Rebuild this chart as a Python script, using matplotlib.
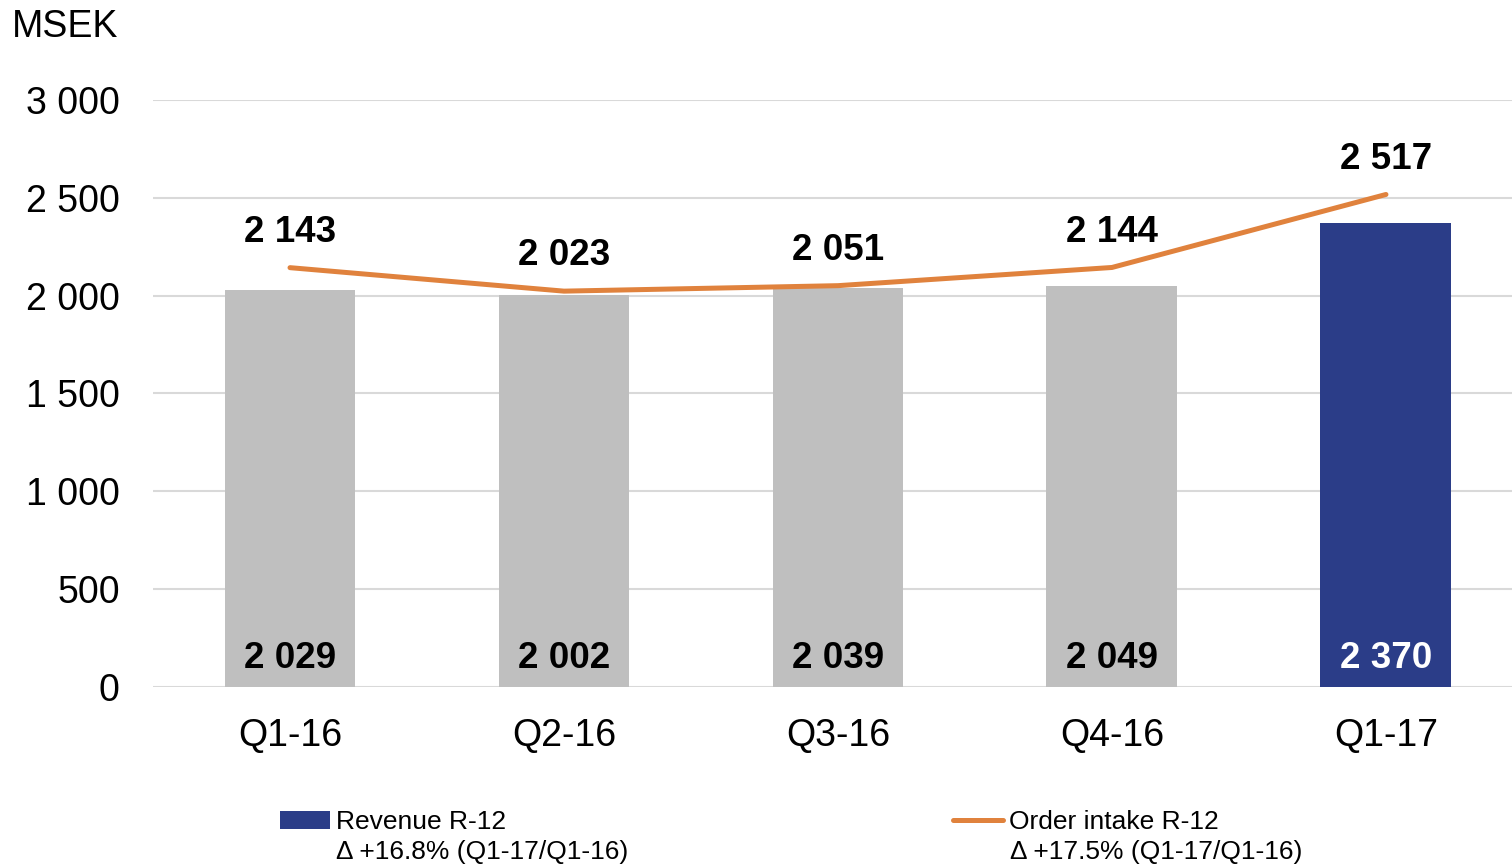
import matplotlib.pyplot as plt
from matplotlib.patches import Patch
from matplotlib.lines import Line2D

plt.rcParams['font.family'] = ['Liberation Sans', 'DejaVu Sans']

quarters = ['Q1-16', 'Q2-16', 'Q3-16', 'Q4-16', 'Q1-17']
revenue = [2029, 2002, 2039, 2049, 2370]
order_intake = [2143, 2023, 2051, 2144, 2517]

grey = '#BFBFBF'
navy = '#2B3D88'
orange = '#E0823D'

fig = plt.figure(figsize=(15.12, 8.67), dpi=100)
ax = fig.add_axes([0.1012, 0.2076, 0.8988, 0.6771])

x = list(range(len(quarters)))
bar_colors = [grey] * 4 + [navy]
ax.bar(x, revenue, width=0.478, color=bar_colors, zorder=2)
ax.plot(x, order_intake, color=orange, lw=3.6, solid_capstyle='round', zorder=3)

def fmt(v):
    return f'{v:,}'.replace(',', ' ')

for i, v in enumerate(revenue):
    c = 'white' if i == len(revenue) - 1 else 'black'
    ax.annotate(fmt(v), (i, 0), xytext=(0, 13.7), textcoords='offset points',
                ha='center', va='baseline', fontsize=26.5, fontweight='bold', color=c, zorder=4)
for i, v in enumerate(order_intake):
    ax.annotate(fmt(v), (i, v), xytext=(0, 18.5), textcoords='offset points',
                ha='center', va='baseline', fontsize=26.5, fontweight='bold', color='black', zorder=4)

ax.set_ylim(0, 3000)
ax.set_xlim(-0.5, 4.46)
ax.set_yticks(range(0, 3001, 500))
ax.set_yticklabels([fmt(t) for t in range(0, 3001, 500)])
ax.set_xticks(x)
ax.set_xticklabels(quarters)
ax.tick_params(axis='y', length=0, pad=24, labelsize=27)
ax.tick_params(axis='x', length=0, pad=22, labelsize=27)
ax.grid(axis='y', color='#D9D9D9', lw=1.5, zorder=0)
for s in ax.spines.values():
    s.set_visible(False)

fig.text(0.008, 0.969, 'MSEK', fontsize=27, va='center', ha='left')

h1 = Patch(facecolor=navy)
h2 = Line2D([0], [0], color=orange, lw=3.6, solid_capstyle='round')
legend_items = [
    (h1, 'Revenue R-12', 'Δ +16.8% (Q1-17/Q1-16)', 0.1852, 0.2222),
    (h2, 'Order intake R-12', 'Δ +17.5% (Q1-17/Q1-16)', 0.6303, 0.668),
]
for h, lab, delta, hx, tx in legend_items:
    fig.legend([h], [lab], loc='center left', bbox_to_anchor=(hx, 0.0515),
               frameon=False, fontsize=19, handlelength=1.9, handletextpad=0.23,
               borderpad=0, borderaxespad=0)
    fig.text(tx, 0.017, delta, fontsize=19, va='center', ha='left')

fig.savefig('out.png', dpi=100)
